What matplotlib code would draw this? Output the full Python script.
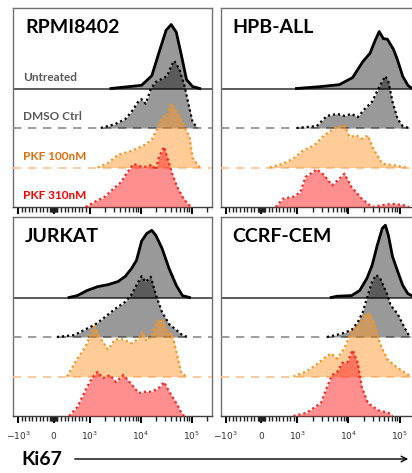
import numpy as np
import matplotlib
matplotlib.use('Agg')
from matplotlib import pyplot as plt

# Ki67 histograms, x as log10(fluorescence), heights as % of modal height
conditions = ['Untreated', 'DMSO Ctrl', 'PKF 100nM', 'PKF 310nM']

rpmi_untr_x = [3.42, 4.02, 4.22, 4.36, 4.50, 4.60, 4.70, 4.80, 4.90, 5.02, 5.16]
rpmi_untr_h = [0, 5, 20, 56, 91, 100, 88, 52, 14, 3, 0]
rpmi_dmso_x = [3.22, 3.50, 3.70, 3.82, 3.96, 4.02, 4.10, 4.20, 4.30, 4.42, 4.52, 4.60, 4.66, 4.76, 4.86, 4.96, 5.02, 5.12]
rpmi_dmso_h = [0, 6, 14, 25, 42, 45, 38, 61, 72, 77, 81, 97, 105, 92, 66, 30, 9, 0]
rpmi_p100_x = [3.16, 3.36, 3.56, 3.82, 4.10, 4.22, 4.32, 4.40, 4.46, 4.52, 4.60, 4.66, 4.76, 4.82, 4.96, 5.02, 5.16]
rpmi_p100_h = [0, 7, 20, 26, 36, 44, 59, 75, 80, 80, 100, 92, 80, 69, 48, 15, 0]
rpmi_p310_x = [2.95, 3.10, 3.30, 3.46, 3.62, 3.72, 3.86, 3.92, 4.02, 4.12, 4.22, 4.30, 4.36, 4.46, 4.52, 4.62, 4.72, 4.82, 4.92, 5.00]
rpmi_p310_h = [0, 8, 16, 28, 39, 52, 67, 66, 63, 63, 66, 58, 78, 94, 78, 52, 31, 16, 5, 0]

hpb_untr_x = [2.99, 3.46, 3.82, 4.08, 4.28, 4.42, 4.52, 4.60, 4.68, 4.76, 4.88, 4.96, 5.06, 5.16, 5.24]
hpb_untr_h = [0, 3, 6, 17, 42, 55, 75, 89, 78, 77, 61, 44, 19, 5, 0]
hpb_dmso_x = [2.99, 3.38, 3.58, 3.78, 3.92, 4.06, 4.18, 4.32, 4.46, 4.58, 4.66, 4.72, 4.78, 4.86, 4.96, 5.06, 5.18]
hpb_dmso_h = [0, 3, 19, 22, 19, 22, 17, 30, 41, 61, 73, 81, 72, 41, 14, 3, 0]
hpb_p100_x = [2.36, 2.78, 2.95, 3.12, 3.32, 3.52, 3.66, 3.78, 3.92, 4.02, 4.16, 4.26, 4.38, 4.48, 4.66, 4.92, 5.12]
hpb_p100_h = [0, 6, 14, 27, 34, 50, 58, 64, 66, 48, 50, 45, 50, 30, 6, 3, 0]
hpb_p310_x = [2.60, 2.78, 2.95, 3.06, 3.16, 3.26, 3.38, 3.52, 3.68, 3.82, 3.92, 4.06, 4.26, 4.38, 4.46, 4.66, 4.86, 5.06, 5.18]
hpb_p310_h = [0, 13, 16, 23, 47, 52, 59, 50, 34, 44, 52, 31, 13, 5, 0, 3, 5, 3, 0]

jur_untr_x = [2.63, 2.82, 2.97, 3.16, 3.36, 3.56, 3.70, 3.82, 3.92, 4.02, 4.12, 4.22, 4.30, 4.42, 4.56, 4.70, 4.82, 4.96]
jur_untr_h = [0, 3, 11, 17, 20, 25, 33, 45, 58, 88, 100, 105, 97, 77, 45, 19, 3, 0]
jur_dmso_x = [1.93, 2.76, 2.93, 3.10, 3.30, 3.50, 3.70, 3.82, 3.92, 4.02, 4.10, 4.20, 4.30, 4.42, 4.56, 4.70, 4.82, 4.92]
jur_dmso_h = [0, 3, 11, 19, 31, 44, 55, 66, 81, 95, 86, 94, 66, 39, 20, 11, 3, 0]
jur_p100_x = [2.57, 2.82, 2.95, 3.02, 3.10, 3.22, 3.36, 3.50, 3.66, 3.82, 3.96, 4.04, 4.12, 4.22, 4.32, 4.42, 4.52, 4.62, 4.70, 4.80, 4.90]
jur_p100_h = [0, 28, 47, 66, 78, 59, 42, 58, 58, 52, 59, 70, 55, 66, 86, 89, 70, 66, 39, 5, 0]
jur_p310_x = [2.63, 2.82, 2.95, 3.06, 3.16, 3.26, 3.40, 3.52, 3.66, 3.80, 3.96, 4.10, 4.22, 4.36, 4.46, 4.56, 4.70, 4.82, 4.86]
jur_p310_h = [0, 14, 41, 61, 69, 59, 64, 53, 64, 52, 36, 38, 38, 44, 53, 38, 20, 2, 0]

cem_untr_x = [3.66, 3.78, 4.06, 4.22, 4.36, 4.46, 4.56, 4.66, 4.72, 4.78, 4.86, 4.96, 5.06, 5.16, 5.26]
cem_untr_h = [0, 2, 3, 11, 30, 50, 81, 108, 113, 97, 64, 41, 19, 6, 2]
cem_dmso_x = [3.58, 3.86, 4.06, 4.18, 4.28, 4.38, 4.46, 4.54, 4.62, 4.76, 4.82, 4.96, 5.06, 5.16, 5.22]
cem_dmso_h = [0, 5, 11, 23, 39, 66, 86, 97, 91, 66, 50, 36, 20, 5, 0]
cem_p100_x = [2.95, 3.18, 3.38, 3.56, 3.66, 3.78, 3.92, 4.06, 4.22, 4.32, 4.42, 4.52, 4.62, 4.76, 4.92, 5.12, 5.22]
cem_p100_h = [0, 8, 19, 31, 36, 28, 44, 70, 83, 97, 98, 78, 50, 27, 16, 5, 0]
cem_p310_x = [2.95, 3.18, 3.46, 3.58, 3.68, 3.78, 3.88, 3.98, 4.08, 4.18, 4.26, 4.38, 4.58, 4.78, 4.86]
cem_p310_h = [0, 5, 20, 45, 64, 69, 83, 84, 103, 83, 45, 20, 9, 5, 0]

panels = [
    ('RPMI8402', [(rpmi_untr_x, rpmi_untr_h), (rpmi_dmso_x, rpmi_dmso_h), (rpmi_p100_x, rpmi_p100_h), (rpmi_p310_x, rpmi_p310_h)]),
    ('HPB-ALL', [(hpb_untr_x, hpb_untr_h), (hpb_dmso_x, hpb_dmso_h), (hpb_p100_x, hpb_p100_h), (hpb_p310_x, hpb_p310_h)]),
    ('JURKAT', [(jur_untr_x, jur_untr_h), (jur_dmso_x, jur_dmso_h), (jur_p100_x, jur_p100_h), (jur_p310_x, jur_p310_h)]),
    ('CCRF-CEM', [(cem_untr_x, cem_untr_h), (cem_dmso_x, cem_dmso_h), (cem_p100_x, cem_p100_h), (cem_p310_x, cem_p310_h)]),
]

tick_vals = [-1000, 0, 1000, 10000, 100000]
tick_labels = ['$\\mathregular{-10^3}$', '$\\mathregular{0}$', '$\\mathregular{10^3}$',
               '$\\mathregular{10^4}$', '$\\mathregular{10^5}$']

# styles per condition (top row to bottom row)
offsets = [3, 2, 1, 0]
fill_cols = [(0, 0, 0, 0.4), (0, 0, 0, 0.4), (1.0, 0.6, 0.18, 0.5), (1.0, 0.13, 0.13, 0.5)]
line_cols = ['black', 'black', '#F7941D', '#FF2020']
line_styles = ['-', (0, (1, 1.3)), (0, (1, 1.3)), (0, (1, 1.3))]
line_widths = [2.0, 1.6, 1.6, 1.6]
label_cols = ['#595959', '#595959', '#E36C09', '#FF0000']
base_styles = [('#404040', '-'), ('#8c8c8c', (0, (5, 4))), ('#FAC08F', (0, (5, 4))), None]
HSCALE = 1.62 / 100.0   # modal height in row units

plt.rcParams['font.family'] = ['Lato', 'DejaVu Sans']
fig = plt.figure(figsize=(4.12, 4.73), dpi=100)
W, H = 412.0, 473.0
boxes = [(13, 8, 199, 199, -1257, 2.51e5), (221, 8, 192, 199, -1229, 1.82e5),
         (13, 217, 199, 199, -1257, 2.51e5), (221, 217, 192, 199, -1229, 1.82e5)]

minor = []
for d in [1000, 10000, 100000]:
    for k in range(2, 10):
        minor.append(k * d)
small = [k * 20 for k in range(1, 5)] + [k * 100 for k in range(1, 10)]
minor = sorted(set(minor + small + [-m for m in small]))

for i, (name, curves) in enumerate(panels):
    px, py, pw, ph, xlo, xhi = boxes[i]
    ax = fig.add_axes([px / W, 1 - (py + ph) / H, pw / W, ph / H])
    ax.set_xscale('symlog', linthresh=1000, linscale=0.63)

    for j, (lx, hh) in enumerate(curves):
        x = 10 ** np.array(lx)
        y = offsets[j] + np.array(hh) * HSCALE
        if base_styles[j] is not None:
            ax.axhline(offsets[j], color=base_styles[j][0], ls=base_styles[j][1], lw=1.2, zorder=1 + j * 3)
        ax.fill_between(x, offsets[j], y, color=fill_cols[j], lw=0, zorder=2 + j * 3)
        ax.plot(x, y, color=line_cols[j], ls=line_styles[j], lw=line_widths[j], zorder=3 + j * 3)
        if i == 0:
            ax.text(0.05, offsets[j] + 0.2, conditions[j], transform=ax.get_yaxis_transform(),
                    color=label_cols[j], fontsize=8.5, fontweight='bold', va='baseline', ha='left', zorder=20)

    ax.text(0.06, 1 - 11 / 199.0, name, transform=ax.transAxes, fontsize=14, fontweight='bold',
            va='top', ha='left', zorder=20)

    ax.set_yticks([])
    ax.set_xticks(tick_vals)
    ax.set_xticks([m for m in minor if xlo < m < xhi], minor=True)
    if i >= 2:
        ax.set_xticklabels(tick_labels, fontsize=6.5, color='#333333', family='DejaVu Sans')
    else:
        ax.set_xticklabels([])
    ax.tick_params(axis='x', which='major', length=5, width=1.4, direction='out', pad=5, color='black')
    ax.tick_params(axis='x', which='minor', length=3.5, width=1.0, direction='out', color='#222222')
    ax.set_xlim(xlo, xhi)
    ax.set_ylim(0, 199 / 39.5)
    for s in ax.spines.values():
        s.set_color('#707070')
        s.set_linewidth(1.0)
    ax.spines['bottom'].set_color('#404040')
    if i % 2 == 1:
        ax.spines['right'].set_visible(False)

fig.text(21 / W, 1 - 459 / H, 'Ki67', fontsize=14, fontweight='bold', va='center', ha='left')
fig.add_artist(matplotlib.patches.FancyArrowPatch((72 / W, 1 - 459 / H), (411 / W, 1 - 459 / H),
                                                  transform=fig.transFigure, arrowstyle='->',
                                                  mutation_scale=10, lw=1.0, color='black'))

plt.savefig('out.png', dpi=100)
